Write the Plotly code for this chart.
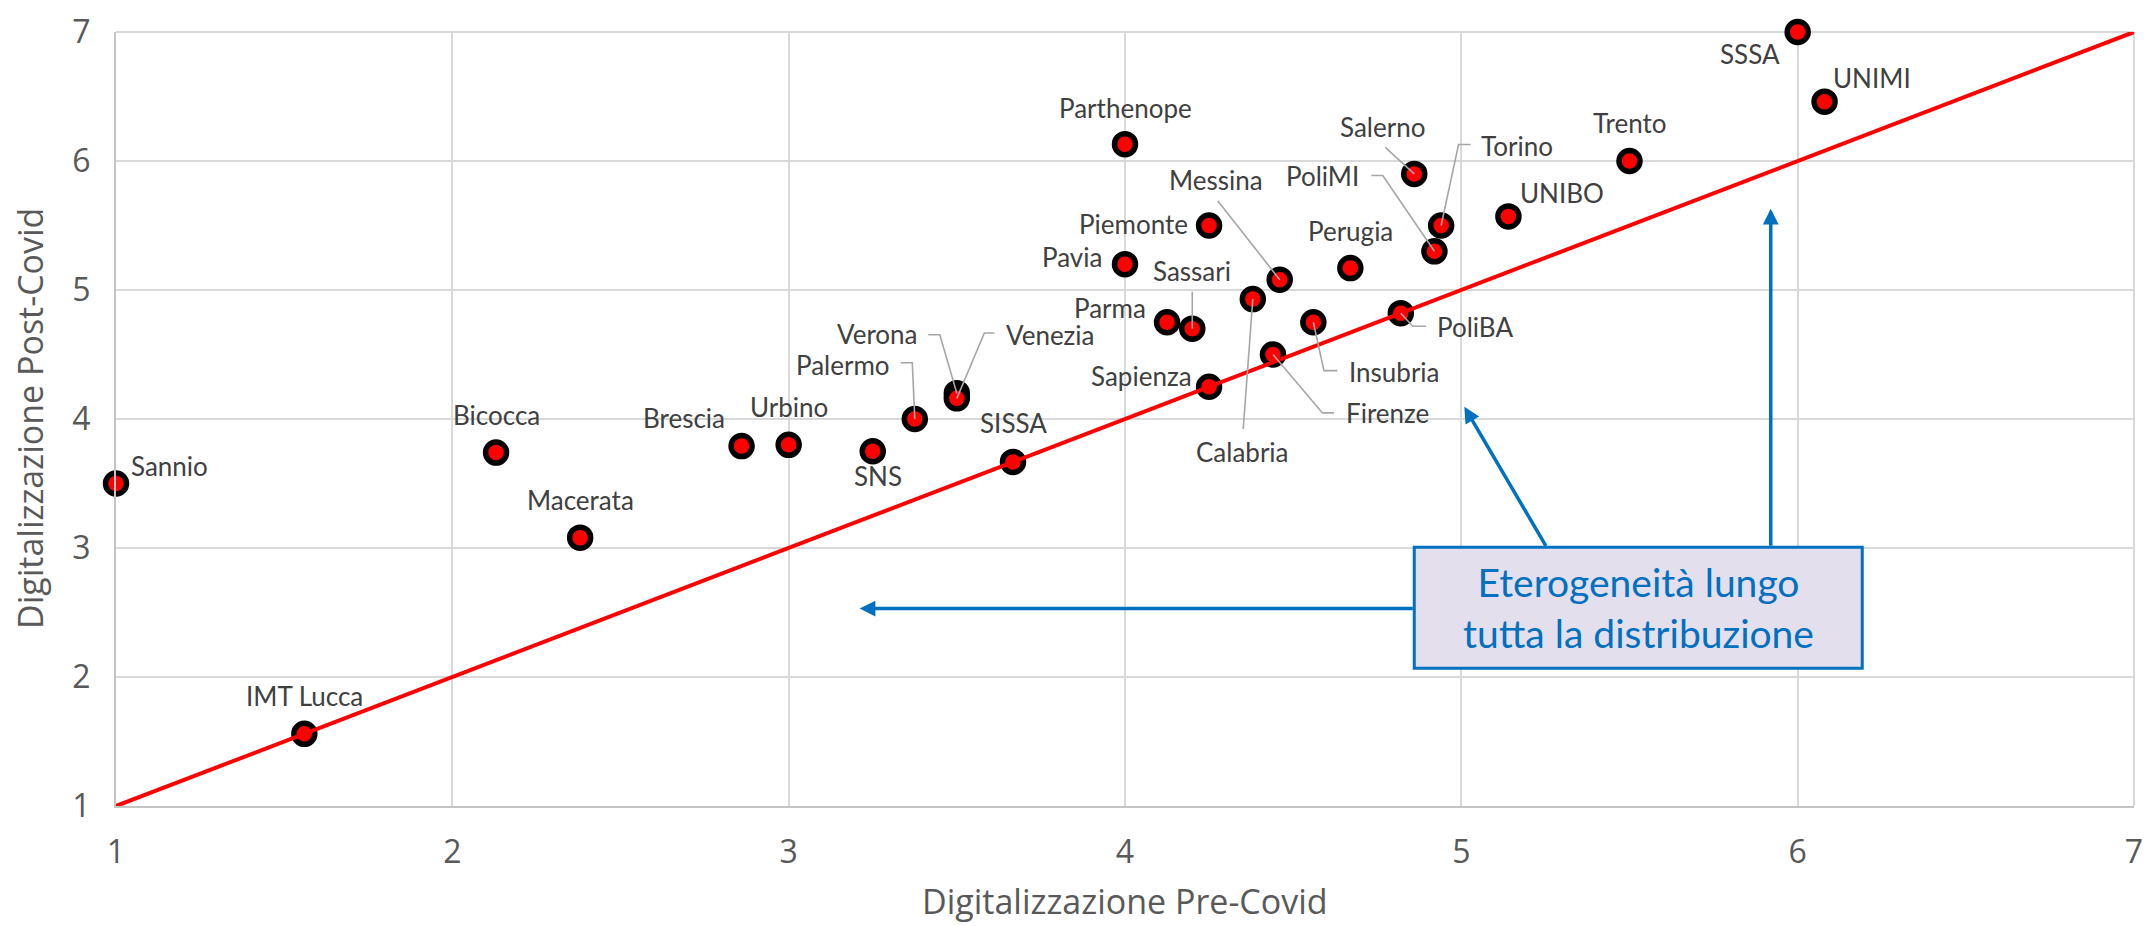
import plotly.graph_objects as go

# ---------------- data ----------------
names = ["Sannio", "Bicocca", "Macerata", "IMT Lucca", "Brescia", "Urbino", "SNS",
         "Palermo", "Verona", "Venezia", "SISSA", "Parthenope", "Piemonte", "Pavia",
         "Parma", "Sassari", "Sapienza", "Calabria", "Messina", "Firenze", "Insubria",
         "Perugia", "PoliBA", "Salerno", "PoliMI", "Torino", "UNIBO", "Trento", "SSSA", "UNIMI"]
pre_covid = [1.00, 2.13, 2.38, 1.56, 2.86, 3.00, 3.25,
             3.375, 3.50, 3.50, 3.667, 4.00, 4.25, 4.00,
             4.125, 4.20, 4.25, 4.38, 4.46, 4.44, 4.56,
             4.67, 4.82, 4.86, 4.92, 4.94, 5.14, 5.50, 6.00, 6.08]
post_covid = [3.50, 3.74, 3.08, 1.56, 3.79, 3.80, 3.75,
              4.00, 4.20, 4.16, 3.667, 6.13, 5.50, 5.20,
              4.75, 4.70, 4.25, 4.93, 5.08, 4.50, 4.75,
              5.17, 4.82, 5.90, 5.30, 5.50, 5.57, 6.00, 7.00, 6.46]
diag_x = [1, 7]
diag_y = [1, 7]
ticks = [1, 2, 3, 4, 5, 6, 7]

x_title = "Digitalizzazione Pre-Covid"
y_title = "Digitalizzazione Post-Covid"
box_text = "Eterogeneità lungo<br>tutta la distribuzione"

# ---------------- label placement (pixels: dx right, dy down) ----------------
label_pos = {
    "Sannio": ("left", 12.6, -17.3), "Bicocca": ("center", 0, -38),
    "Macerata": ("center", 0, -38), "IMT Lucca": ("center", 0, -38),
    "Brescia": ("right", -14.5, -28), "Urbino": ("center", 0, -38),
    "SNS": ("center", 5, 25), "Palermo": ("right", -23, -54),
    "Verona": ("right", -37.7, -59), "Venezia": ("left", 46.8, -63.5),
    "SISSA": ("center", 0, -39), "Parthenope": ("center", 0, -36.5),
    "Piemonte": ("right", -19, -2), "Pavia": ("right", -20.7, -7),
    "Parma": ("right", -19, -14), "Sassari": ("center", 0, -57.7),
    "Sapienza": ("right", -14.7, -11), "Calabria": ("center", -10, 153.3),
    "Messina": ("center", -63.6, -100), "Firenze": ("left", 71, 58.4),
    "Insubria": ("left", 34, 49.7), "Perugia": ("center", 0, -37),
    "PoliBA": ("left", 34.6, 14), "Salerno": ("center", -32, -46.5),
    "PoliMI": ("right", -73.7, -75), "Torino": ("left", 37.4, -79.6),
    "UNIBO": ("left", 10, -23.4), "Trento": ("center", 0, -38),
    "SSSA": ("right", -16, 21.7), "UNIMI": ("left", 6, -23.6),
}
leaders = {
    "Verona": [(0, 0), (-17, -58.5), (-28.5, -58.5)],
    "Venezia": [(0, 0), (27.5, -65.4), (37.6, -65.4)],
    "Palermo": [(0, 0), (-2.5, -56.2), (-14, -56.2)],
    "Sassari": [(0, 0), (0, -37)],
    "Messina": [(0, 0), (-62, -79)],
    "Calabria": [(0, 0), (-9.6, 130)],
    "Insubria": [(0, 0), (10.6, 48.4), (24, 48.4)],
    "Firenze": [(0, 0), (49.5, 58.4), (61, 58.4)],
    "PoliBA": [(0, 0), (12, 13), (25.3, 13)],
    "Salerno": [(0, 0), (-29, -26.5)],
    "PoliMI": [(0, 0), (-51.7, -75.8), (-63.2, -75.8)],
    "Torino": [(0, 0), (17.4, -81), (29.5, -81)],
}
# callout box and arrows (axis units)
box = dict(x0=4.860, x1=6.192, y0=2.068, y1=3.005)
arrows = [  # (tip_x, tip_y, tail_x, tail_y)
    (3.211, 2.531, 4.860, 2.531),
    (5.009, 4.094, 5.254, 3.005),
    (5.920, 5.630, 5.920, 3.005),
]

LABEL_FONT = dict(family="Lato, Carlito, Calibri, sans-serif", size=26, color="#404040")
AXIS_FONT = dict(family="Open Sans, Segoe UI, sans-serif", size=32, color="#595959")
TITLE_FONT = dict(family="Open Sans, Segoe UI, sans-serif", size=34, color="#595959")
BLUE = "#0070c0"
GRID = "#d9d9d9"

fig = go.Figure()
fig.add_trace(go.Scatter(
    x=pre_covid, y=post_covid, mode="markers", text=names, cliponaxis=False,
    marker=dict(size=21, color="#ff0000", line=dict(color="black", width=5.5)),
    hoverinfo="text+x+y",
))
fig.add_trace(go.Scatter(
    x=diag_x, y=diag_y, mode="lines", cliponaxis=False,
    line=dict(color="#ff0000", width=4), hoverinfo="skip",
))

annotations = []
shapes = [
    # plot-area frame on the top and right (same colour as the grid)
    dict(type="line", xref="paper", yref="paper", x0=0, x1=1, y0=1, y1=1,
         layer="below", line=dict(color=GRID, width=2)),
    dict(type="line", xref="paper", yref="paper", x0=1, x1=1, y0=0, y1=1,
         layer="below", line=dict(color=GRID, width=2)),
]
for n, xv, yv in zip(names, pre_covid, post_covid):
    anchor, dx, dy = label_pos[n]
    annotations.append(dict(
        x=xv, y=yv, xref="x", yref="y", text=n, showarrow=False,
        xanchor=anchor, yanchor="middle", xshift=dx, yshift=-dy, font=LABEL_FONT,
    ))
    if n in leaders:
        pts = leaders[n]
        path = "M" + " L".join(f"{px},{-py}" for px, py in pts)
        shapes.append(dict(
            type="path", xref="x", yref="y", xsizemode="pixel", ysizemode="pixel",
            xanchor=xv, yanchor=yv, path=path, layer="above",
            line=dict(color="#a6a6a6", width=1.6),
        ))

# callout box
shapes.append(dict(type="rect", xref="x", yref="y", layer="above",
                   fillcolor="#e4dfec", line=dict(color=BLUE, width=3), **box))
for tx, ty, ax_, ay_ in arrows:
    annotations.append(dict(
        x=tx, y=ty, xref="x", yref="y", ax=ax_, ay=ay_, axref="x", ayref="y",
        text="", showarrow=True, arrowhead=2, arrowsize=0.9, arrowwidth=3.5,
        arrowcolor=BLUE, standoff=0, startstandoff=0,
    ))
annotations.append(dict(
    x=(box["x0"] + box["x1"]) / 2, y=(box["y0"] + box["y1"]) / 2, xref="x", yref="y",
    text=box_text, showarrow=False, xanchor="center", yanchor="middle",
    font=dict(family="Lato, Carlito, Calibri, sans-serif", size=39, color=BLUE),
))
# axis titles
annotations.append(dict(
    x=0.5, y=0, xref="paper", yref="paper", text=x_title, showarrow=False,
    xanchor="center", yanchor="middle", yshift=-95, font=TITLE_FONT,
))
annotations.append(dict(
    x=0, y=0.5, xref="paper", yref="paper", text=y_title, showarrow=False,
    xanchor="center", yanchor="middle", xshift=-86, textangle=-90, font=TITLE_FONT,
))

axis_common = dict(
    range=[1, 7], tickmode="array", tickvals=ticks, ticktext=[str(t) for t in ticks],
    showgrid=True, gridcolor=GRID, gridwidth=2, zeroline=False,
    showline=True, linecolor="#c4c4c4", linewidth=2, ticks="",
    tickfont=AXIS_FONT, fixedrange=True, ticklabeloverflow="allow",
)
fig.update_xaxes(**axis_common, ticklabelstandoff=17)
fig.update_yaxes(**axis_common, ticklabelstandoff=17)

fig.update_layout(
    width=2152, height=926,
    margin=dict(l=116, r=9, t=25, b=120),
    plot_bgcolor="white", paper_bgcolor="white",
    showlegend=False, annotations=annotations, shapes=shapes,
)

fig.write_html(
    "out.html",
    config={"displayModeBar": False},
    post_script="document.body.style.margin='0';document.body.style.overflow='hidden';",
)
